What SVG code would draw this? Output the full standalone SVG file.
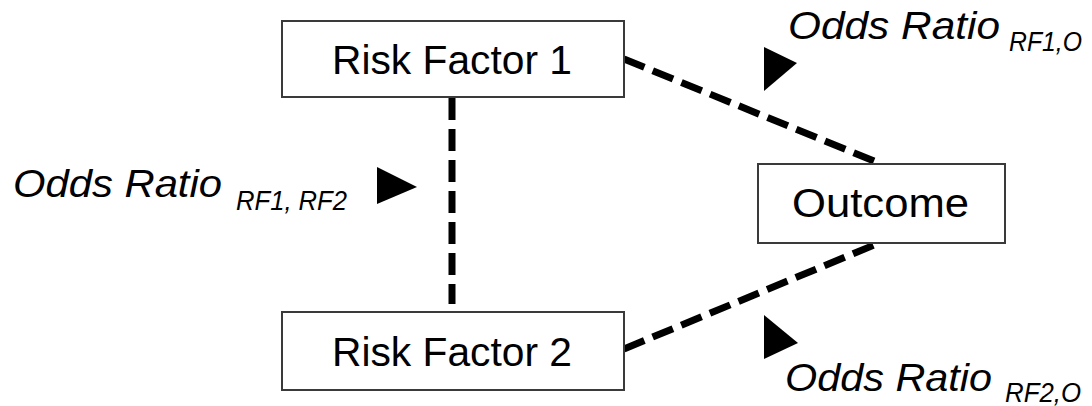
<svg xmlns="http://www.w3.org/2000/svg" width="1092" height="406" viewBox="0 0 1092 406">
<style>
.box{fill:#fff;stroke:#3a3a3a;stroke-width:2}
.lbl{font-family:"Liberation Sans",Arial,sans-serif;font-size:41px;fill:#000}
.or{font-family:"Liberation Sans",Arial,sans-serif;font-style:italic;font-size:38px;fill:#000}
.sub{font-family:"Liberation Sans",Arial,sans-serif;font-style:italic;font-size:28px;fill:#000}
.conn{stroke:#000;stroke-width:7;stroke-dasharray:22 9;fill:none}
.tri{fill:#000}
</style>
<rect width="1092" height="406" fill="#fff"/>
<g id="connectors">
<line class="conn" x1="452" y1="98" x2="452" y2="304"/>
<line class="conn" x1="624" y1="59" x2="879" y2="163"/>
<line class="conn" x1="624" y1="349" x2="879" y2="243"/>
</g>
<g id="rf1">
<rect class="box" x="282" y="21" width="342" height="76"/>
<text class="lbl" x="332" y="74" textLength="240" lengthAdjust="spacingAndGlyphs">Risk Factor 1</text>
</g>
<g id="rf2">
<rect class="box" x="282" y="312" width="342" height="78"/>
<text class="lbl" x="332" y="366" textLength="240" lengthAdjust="spacingAndGlyphs">Risk Factor 2</text>
</g>
<g id="outcome">
<rect class="box" x="758" y="164" width="247" height="79"/>
<text class="lbl" x="792" y="217" textLength="177" lengthAdjust="spacingAndGlyphs">Outcome</text>
</g>
<g id="or-rf1-o">
<polygon class="tri" points="764,47 764,91 797,63"/>
<text class="or" x="788" y="39" textLength="212" lengthAdjust="spacingAndGlyphs">Odds Ratio</text>
<text class="sub" x="1009" y="51" textLength="73" lengthAdjust="spacingAndGlyphs">RF1,O</text>
</g>
<g id="or-rf1-rf2">
<polygon class="tri" points="377,167 377,204 417,187"/>
<text class="or" x="13" y="197" textLength="209" lengthAdjust="spacingAndGlyphs">Odds Ratio</text>
<text class="sub" x="236" y="210" textLength="111" lengthAdjust="spacingAndGlyphs">RF1, RF2</text>
</g>
<g id="or-rf2-o">
<polygon class="tri" points="764,315 764,359 798,343"/>
<text class="or" x="785" y="391" textLength="207" lengthAdjust="spacingAndGlyphs">Odds Ratio</text>
<text class="sub" x="1005" y="402" textLength="76" lengthAdjust="spacingAndGlyphs">RF2,O</text>
</g>
</svg>
